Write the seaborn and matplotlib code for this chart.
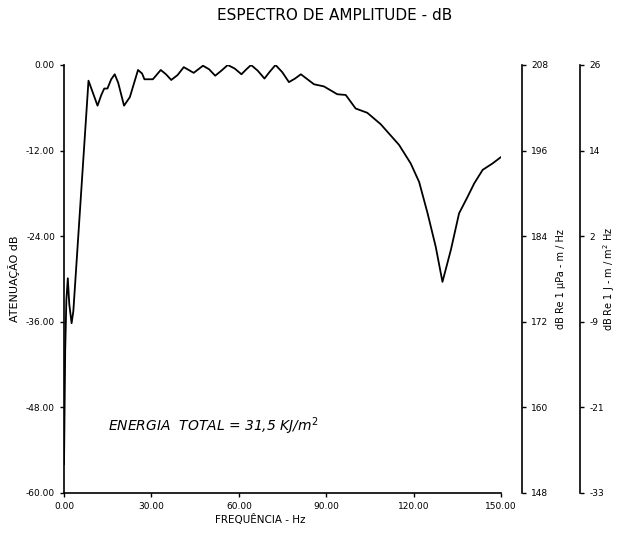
import numpy as np
import pandas as pd
import seaborn as sns
import matplotlib.pyplot as plt

# values
freq = [0.0, 0.4, 0.8, 1.3, 1.8, 2.6, 3.2, 8.4, 10.0, 11.5, 12.8, 13.8, 14.9,
        16.2, 17.4, 18.6, 20.6, 22.6, 25.4, 26.8, 27.6, 30.5, 33.2, 35.0,
        36.8, 39.0, 41.1, 44.5, 47.7, 49.8, 51.9, 54.0, 56.2, 58.6, 60.9,
        62.6, 64.2, 66.5, 68.8, 70.7, 72.6, 74.9, 77.2, 79.3, 81.3, 85.8,
        89.2, 93.8, 96.7, 100.1, 104.1, 108.7, 115.0, 119.0, 121.9, 124.8,
        127.6, 129.9, 132.8, 135.6, 138.5, 140.8, 143.7, 147.1, 150.0]
amp = [-56.0, -40.0, -33.0, -29.9, -33.5, -36.2, -34.5, -2.2, -4.0, -5.7,
       -4.2, -3.3, -3.3, -2.0, -1.3, -2.5, -5.7, -4.5, -0.7, -1.2, -2.0, -2.0,
       -0.7, -1.3, -2.1, -1.4, -0.3, -1.1, -0.1, -0.6, -1.5, -0.8, 0.0, -0.5,
       -1.3, -0.6, 0.0, -0.8, -1.9, -0.9, 0.0, -1.0, -2.4, -1.9, -1.3, -2.7,
       -3.0, -4.1, -4.2, -6.1, -6.7, -8.3, -11.2, -13.8, -16.4, -20.8, -25.5,
       -30.4, -25.9, -20.8, -18.5, -16.6, -14.7, -13.8, -12.9]

x_ticks = [0, 30, 60, 90, 120, 150]
y_ticks = [-60, -48, -36, -24, -12, 0]
upa_labels = ['148', '160', '172', '184', '196', '208']
j_labels = ['-33', '-21', '-9', '2', '14', '26']

df = pd.DataFrame({'freq': freq, 'amp': amp})

sns.set_style('ticks')
plt.rcParams['font.family'] = ['DejaVu Sans']
plt.rcParams['text.color'] = 'black'
plt.rcParams['axes.labelcolor'] = 'black'

fig = plt.figure(figsize=(6.18, 5.43), dpi=100)
ax = fig.add_axes([0.1036, 0.0921, 0.7071, 0.7882])

sns.lineplot(data=df, x='freq', y='amp', ax=ax, color='black', linewidth=1.3)

tick_font = dict(size=6.5)

ax.set_xlim(0, 150)
ax.set_ylim(-60, 0)
ax.set_xticks(x_ticks, labels=[f'{v:.2f}' for v in x_ticks], fontdict=tick_font)
ax.set_yticks(y_ticks, labels=[f'{v:.2f}' for v in y_ticks], fontdict=tick_font)
ax.tick_params(length=3, width=1, colors='black')
for s in ['top', 'right']:
    ax.spines[s].set_visible(False)
for s in ['left', 'bottom']:
    ax.spines[s].set_color('black')
    ax.spines[s].set_linewidth(1.2)

ax.set_xlabel('FREQUÊNCIA - Hz', fontsize=7.5)
ax.xaxis.set_label_coords(0.45, -0.05)
ax.set_ylabel('ATENUAÇÃO dB', fontsize=8)
ax.yaxis.set_label_coords(-0.10, 0.5)

ax.text(15, -50.7, 'ENERGIA  TOTAL = 31,5 KJ/m$^2$', fontsize=10,
        style='italic', va='center')

# the two extra scales on the right
for pos, labels, name, lx in [(1.048, upa_labels, 'dB Re 1 μPa - m / Hz', 1.125),
                              (1.181, j_labels, 'dB Re 1 J - m / m$^2$ Hz', 1.230)]:
    tw = ax.twinx()
    tw.set_ylim(-60, 0)
    tw.spines['right'].set_position(('axes', pos))
    for s in ['top', 'left', 'bottom']:
        tw.spines[s].set_visible(False)
    tw.spines['right'].set_color('black')
    tw.spines['right'].set_linewidth(1.2)
    tw.set_yticks(y_ticks, labels=labels, fontdict=tick_font)
    tw.tick_params(length=3, width=1, colors='black')
    tw.set_ylabel(name, fontsize=7)
    tw.yaxis.set_label_coords(lx, 0.5)

fig.suptitle('ESPECTRO DE AMPLITUDE - dB', x=0.542, y=0.985, fontsize=11)

fig.savefig('out.png', dpi=100, facecolor='white')
